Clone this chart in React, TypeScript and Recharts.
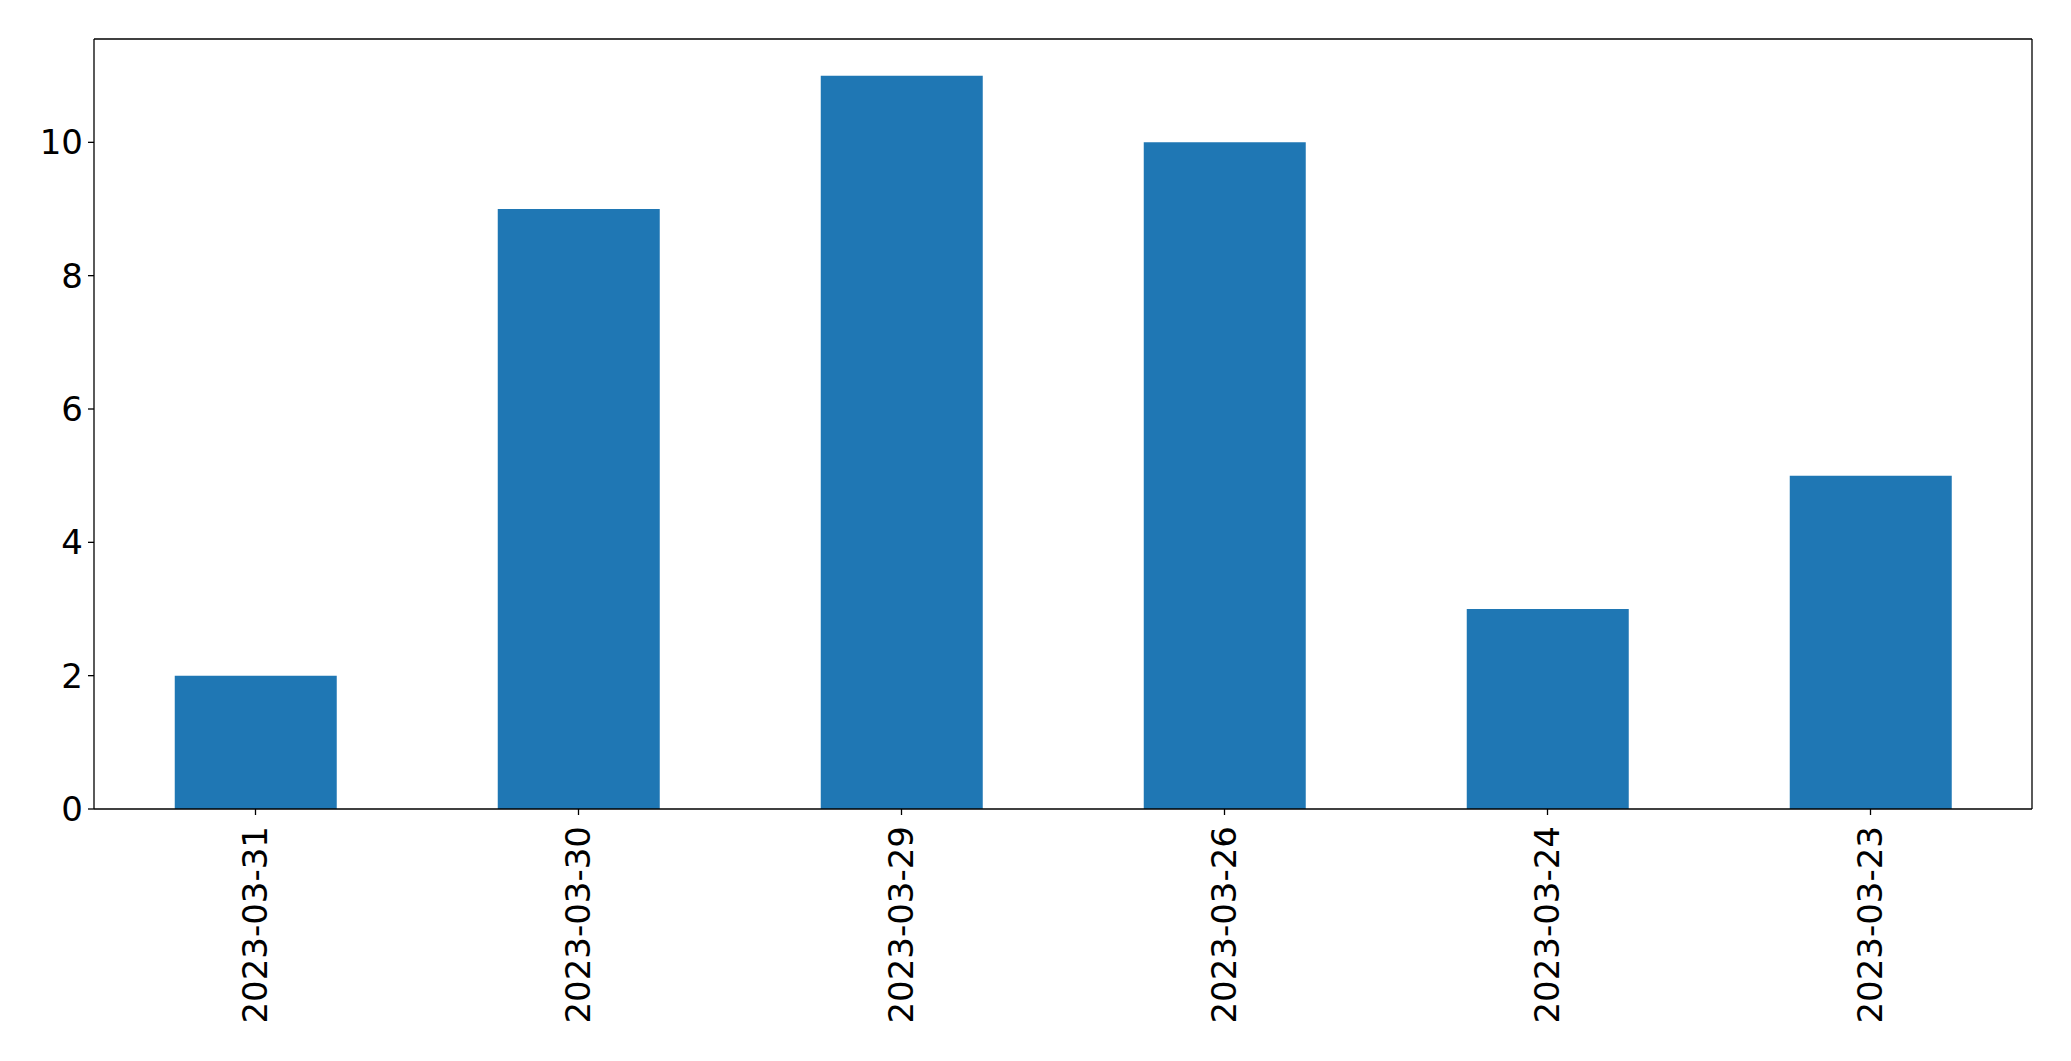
import { Bar, BarChart, XAxis, YAxis } from "recharts"

// Conteo por fecha (orden tal como aparece en el gráfico)
const dates = ["2023-03-31", "2023-03-30", "2023-03-29", "2023-03-26", "2023-03-24", "2023-03-23"]
const counts = [2, 9, 11, 10, 3, 5]
const yTicks = [0, 2, 4, 6, 8, 10]

const BAR_COLOR = "#1f77b4"
const FONT = "'DejaVu Sans', sans-serif"
const FONT_SIZE = 34
const AXIS_LINE = { stroke: "#000", strokeWidth: 1.3 }

const data = dates.map((date, i) => ({ date, count: counts[i] }))

function DateTick({ x, y, payload }: { x?: number; y?: number; payload?: { value: string } }) {
  return (
    <g transform={`translate(${x},${(y ?? 0) + 9})`}>
      <text
        transform="rotate(-90)"
        textAnchor="end"
        dy="0.35em"
        fill="#000"
        fontSize={FONT_SIZE}
        fontFamily={FONT}
      >
        {payload?.value}
      </text>
    </g>
  )
}

export default function App() {
  return (
    <div style={{ position: "absolute", left: 0, top: 0, background: "#fff" }}>
      <BarChart
        width={2071}
        height={1061}
        data={data}
        margin={{ top: 38, right: 38, left: 0, bottom: 0 }}
        barCategoryGap="25%"
      >
        <XAxis
          dataKey="date"
          height={252}
          interval={0}
          tick={<DateTick />}
          tickSize={6}
          tickLine={AXIS_LINE}
          axisLine={AXIS_LINE}
        />
        <XAxis
          xAxisId="top"
          dataKey="date"
          orientation="top"
          height={1}
          tick={false}
          tickLine={false}
          axisLine={AXIS_LINE}
        />
        <YAxis
          width={94}
          domain={[0, 11.55]}
          ticks={yTicks}
          tickSize={6}
          tickMargin={5}
          tick={{ fill: "#000", fontSize: FONT_SIZE, fontFamily: FONT }}
          tickLine={AXIS_LINE}
          axisLine={AXIS_LINE}
        />
        <YAxis
          yAxisId="right"
          orientation="right"
          width={1}
          domain={[0, 11.55]}
          tick={false}
          tickLine={false}
          axisLine={AXIS_LINE}
        />
        <Bar dataKey="count" fill={BAR_COLOR} isAnimationActive={false} />
      </BarChart>
    </div>
  )
}
